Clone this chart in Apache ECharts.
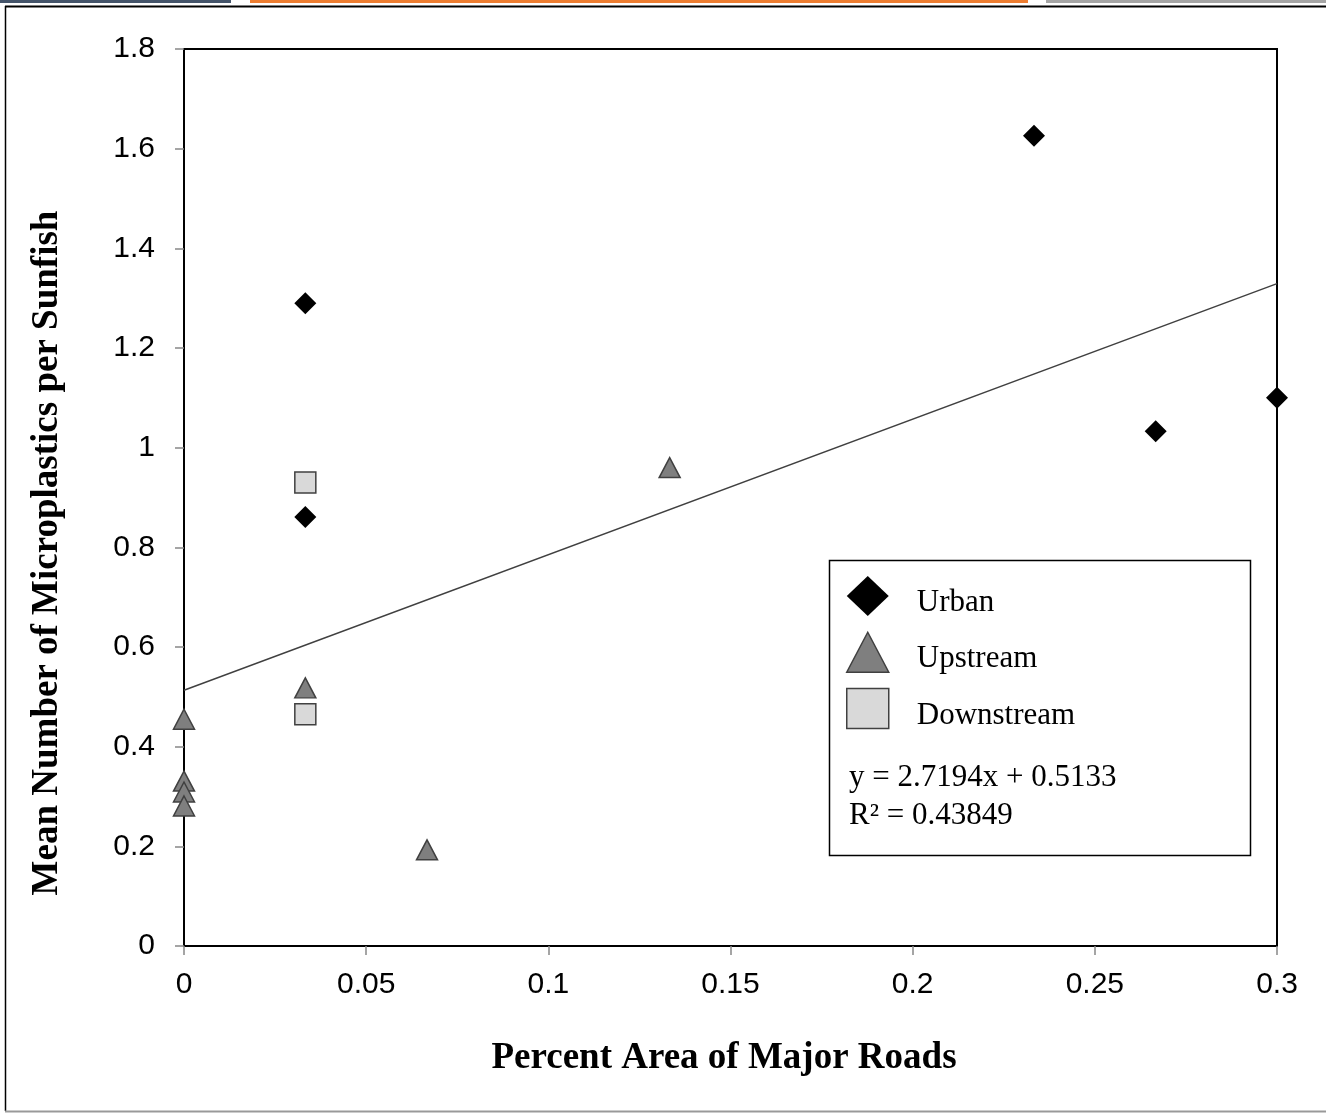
<!DOCTYPE html>
<html>
<head>
<meta charset="utf-8">
<script src="https://cdn.jsdelivr.net/npm/echarts@6/dist/echarts.min.js"></script>
<style>
html,body{margin:0;padding:0;background:#fff;}
#chart{width:1326px;height:1113px;}
</style>
</head>
<body>
<div id="chart"></div>
<script>
// ---- data ----
const urbanX = [0.0333, 0.0333, 0.2333, 0.2667, 0.3];
const urbanY = [1.29, 0.861, 1.626, 1.033, 1.10];
const upstreamX = [0.1333, 0.0333, 0.0667, 0, 0, 0, 0];
const upstreamY = [0.96, 0.518, 0.193, 0.455, 0.331, 0.309, 0.281];
const downstreamX = [0.0333, 0.0333];
const downstreamY = [0.930, 0.465];
const trendX = [0, 0.3];
const trendY = [0.5133, 1.3291];
const xTicks = [0, 0.05, 0.1, 0.15, 0.2, 0.25, 0.3];
const yTicks = [0, 0.2, 0.4, 0.6, 0.8, 1, 1.2, 1.4, 1.6, 1.8];
const seriesNames = ['Urban', 'Upstream', 'Downstream'];
const equationText = 'y = 2.7194x + 0.5133';
const r2Text = 'R\u00B2 = 0.43849';
const xTitle = 'Percent Area of Major Roads';
const yTitle = 'Mean Number of Microplastics per Sunfish';

const zip = (xs, ys) => xs.map((x, i) => [x, ys[i]]);

const chart = echarts.init(document.getElementById('chart'), null, {renderer: 'canvas'});
const serif = '"Liberation Serif", "Times New Roman", serif';
const sans = '"Liberation Sans", Arial, sans-serif';

const option = {
  animation: false,
  backgroundColor: '#fff',
  grid: {
    left: 184, top: 49, right: 49, bottom: 167,
    show: true, borderColor: '#000', borderWidth: 2, backgroundColor: 'transparent'
  },
  xAxis: {
    type: 'value', min: 0, max: 0.3, interval: 0.05,
    axisLine: {show: true, onZero: false, lineStyle: {color: '#000', width: 2}},
    axisTick: {show: true, length: 9, inside: false, lineStyle: {color: '#888', width: 1.5}},
    splitLine: {show: false},
    axisLabel: {
      margin: 24, fontFamily: sans, fontSize: 30, color: '#000',
      formatter: v => { const t = xTicks.find(k => Math.abs(k - v) < 1e-9); return t === undefined ? '' : String(t); }
    }
  },
  yAxis: {
    type: 'value', min: 0, max: 1.8, interval: 0.2,
    axisLine: {show: true, onZero: false, lineStyle: {color: '#000', width: 2}},
    axisTick: {show: true, length: 9, inside: false, lineStyle: {color: '#888', width: 1.5}},
    splitLine: {show: false},
    axisLabel: {
      margin: 29, fontFamily: sans, fontSize: 30, color: '#000',
      formatter: v => { const t = yTicks.find(k => Math.abs(k - v) < 1e-9); return t === undefined ? '' : String(t); }
    }
  },
  legend: {
    orient: 'vertical', left: 841, top: 571,
    itemWidth: 42, itemHeight: 40, itemGap: 13,
    formatter: '{t|{name}}',
    textStyle: {
      fontFamily: serif, fontSize: 31, color: '#000', padding: [0, 0, 0, 23],
      rich: {t: {fontFamily: serif, fontSize: 31, color: '#000', padding: [14, 0, 0, 0]}}
    },
    data: [
      {name: seriesNames[0], icon: 'diamond', itemStyle: {color: '#000', borderWidth: 0}},
      {name: seriesNames[1], icon: 'triangle', itemStyle: {color: '#7f7f7f', borderColor: '#404040', borderWidth: 1.5}},
      {name: seriesNames[2], icon: 'rect', itemStyle: {color: '#d9d9d9', borderColor: '#404040', borderWidth: 1.5}}
    ]
  },
  series: [
    {
      name: 'trend', type: 'line', data: zip(trendX, trendY),
      symbol: 'none', lineStyle: {color: '#404040', width: 1.5}, z: 1, silent: true
    },
    {
      name: seriesNames[0], type: 'scatter', data: zip(urbanX, urbanY), clip: false,
      symbol: 'diamond', symbolSize: 22, itemStyle: {color: '#000', opacity: 1}, z: 5
    },
    {
      name: seriesNames[1], type: 'scatter', data: zip(upstreamX, upstreamY), clip: false,
      symbol: 'triangle', symbolSize: [21, 20],
      itemStyle: {color: '#7f7f7f', borderColor: '#404040', borderWidth: 1.5, opacity: 1}, z: 5
    },
    {
      name: seriesNames[2], type: 'scatter', data: zip(downstreamX, downstreamY), clip: false,
      symbol: 'rect', symbolSize: 21,
      itemStyle: {color: '#d9d9d9', borderColor: '#404040', borderWidth: 1.5, opacity: 1}, z: 5
    }
  ],
  graphic: [
    // top decorative strip
    {type: 'rect', shape: {x: 0, y: 0, width: 231, height: 3}, style: {fill: '#44546a'}},
    {type: 'rect', shape: {x: 250, y: 0, width: 778, height: 3}, style: {fill: '#ed7d31'}},
    {type: 'rect', shape: {x: 1046, y: 0, width: 280, height: 3}, style: {fill: '#a5a5a5'}},
    // outer frame
    {type: 'line', shape: {x1: 5, y1: 6.5, x2: 1326, y2: 6.5}, style: {stroke: '#000', lineWidth: 2}},
    {type: 'line', shape: {x1: 5.5, y1: 6, x2: 5.5, y2: 1111}, style: {stroke: '#000', lineWidth: 1.5}},
    {type: 'line', shape: {x1: 5, y1: 1111.5, x2: 1326, y2: 1111.5}, style: {stroke: '#999', lineWidth: 2}},
    // legend box
    {type: 'rect', shape: {x: 829.5, y: 560.5, width: 421, height: 295}, style: {fill: 'none', stroke: '#000', lineWidth: 1.5}, z: 0},
    {type: 'text', x: 849, y: 778, style: {text: equationText, font: '31px ' + serif, fill: '#000', verticalAlign: 'middle'}},
    {type: 'text', x: 849, y: 816, style: {text: r2Text, font: '31px ' + serif, fill: '#000', verticalAlign: 'middle'}},
    // axis titles
    {type: 'text', x: 724, y: 1058, style: {text: xTitle, font: 'bold 37px ' + serif, fill: '#000', align: 'center', verticalAlign: 'middle'}},
    {type: 'text', x: 47, y: 553, rotation: Math.PI / 2, style: {text: yTitle, font: 'bold 37px ' + serif, fill: '#000', align: 'center', verticalAlign: 'middle'}}
  ]
};
chart.setOption(option);
</script>
</body>
</html>
